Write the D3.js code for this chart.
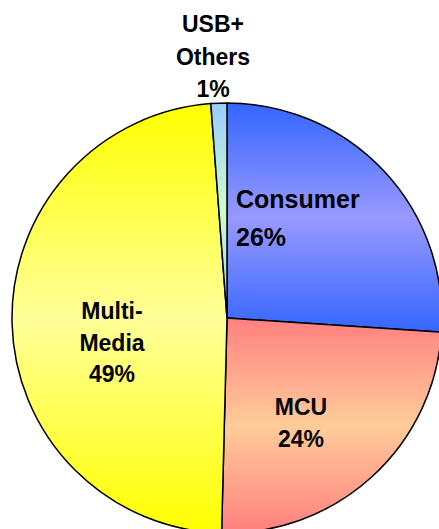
<!DOCTYPE html>
<html>
<head>
<meta charset="utf-8">
<script src="https://cdn.jsdelivr.net/npm/d3@7"></script>
<style>
  body { margin: 0; background: #fff; }
  text { font-family: "Liberation Sans", Arial, sans-serif; font-weight: bold; fill: #000; }
</style>
</head>
<body>
<script>
// slice data, clockwise from 12 o'clock
const segments = ["Consumer", "MCU", "Multi-Media", "USB+ Others"];
const shares   = [26.05, 24.35, 48.4, 1.2];
const labelLines = [["Consumer", "26%"], ["MCU", "24%"], ["Multi-", "Media", "49%"], ["USB+", "Others", "1%"]];

// gradient edge / middle colours per slice
const edgeColors = ["#3366ff", "#ff8080", "#ffff00", "#99ccff"];
const midColors  = ["#9999ff", "#ffcc99", "#ffff99", "#ccffcc"];

const width = 439, height = 529;
const cx = 227, cy = 318, radius = 215;

// label placement relative to pie centre (px)
const labelLayout = [
    {dx: 9,    dy: -110, step: 38, anchor: "start",  size: 25},
    {dx: 74,   dy: 97,   step: 32, anchor: "middle", size: 23},
    {dx: -115, dy: 1,    step: 31.5, anchor: "middle", size: 23},
    {dx: -14,  dy: -286, step: 32.5, anchor: "middle", size: 23}
];

const svg = d3.select("body").append("svg")
    .attr("width", width)
    .attr("height", height)
    .attr("viewBox", [0, 0, width, height]);

const defs = svg.append("defs");
segments.forEach((s, i) => {
    const g = defs.append("linearGradient")
        .attr("id", "grad" + i)
        .attr("x1", 0).attr("y1", 0).attr("x2", 0).attr("y2", 1);
    g.append("stop").attr("offset", "0%").attr("stop-color", edgeColors[i]);
    g.append("stop").attr("offset", "50%").attr("stop-color", midColors[i]);
    g.append("stop").attr("offset", "100%").attr("stop-color", edgeColors[i]);
});

const pie = d3.pie().sort(null).value(d => d);
const arc = d3.arc().innerRadius(0).outerRadius(radius);

const g = svg.append("g").attr("transform", `translate(${cx},${cy})`);

g.selectAll("path")
    .data(pie(shares))
    .join("path")
    .attr("d", arc)
    .attr("fill", (d, i) => `url(#grad${i})`)
    .attr("stroke", "#000")
    .attr("stroke-width", 1.5)
    .attr("stroke-linejoin", "round");

labelLines.forEach((lines, i) => {
    const L = labelLayout[i];
    const t = g.append("text")
        .attr("text-anchor", L.anchor)
        .style("font-size", L.size + "px");
    lines.forEach((line, j) => {
        t.append("tspan")
            .attr("x", L.dx)
            .attr("y", L.dy + j * L.step)
            .text(line);
    });
});
</script>
</body>
</html>
